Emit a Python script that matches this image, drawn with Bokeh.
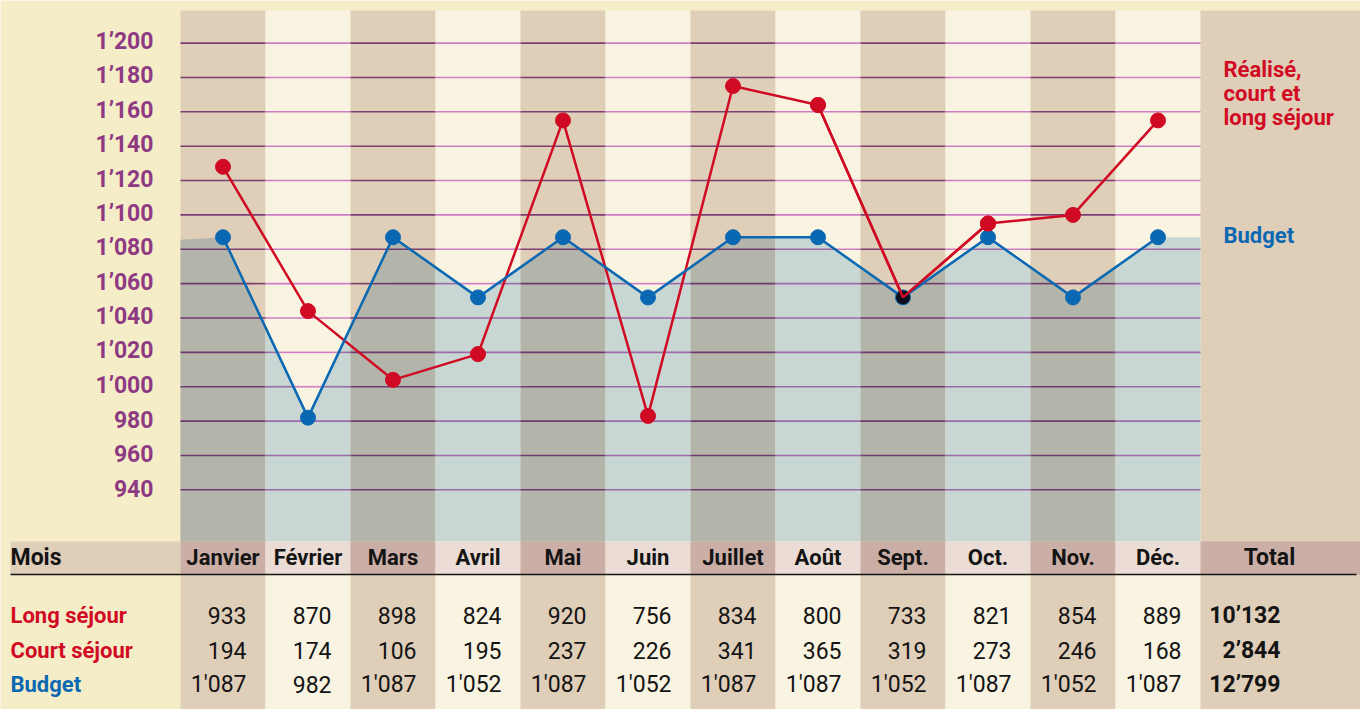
import numpy as np
from bokeh.plotting import figure
from bokeh.models import Range1d
from bokeh.core.properties import value
from bokeh.embed import file_html
from bokeh.resources import INLINE

# ---------------- data ----------------
months = ["Janvier", "Février", "Mars", "Avril", "Mai", "Juin",
          "Juillet", "Août", "Sept.", "Oct.", "Nov.", "Déc."]
long_sejour = [933, 870, 898, 824, 920, 756, 834, 800, 733, 821, 854, 889]
court_sejour = [194, 174, 106, 195, 237, 226, 341, 365, 319, 273, 246, 168]
budget = [1087, 982, 1087, 1052, 1087, 1052, 1087, 1087, 1052, 1087, 1052, 1087]
# plotted "Réalisé, court et long séjour" values
realise = [1128, 1044, 1004, 1019, 1155, 983, 1175, 1164, 1052, 1095, 1100, 1155]
y_ticks = [940, 960, 980, 1000, 1020, 1040, 1060, 1080, 1100, 1120, 1140, 1160, 1180, 1200]
row_labels = ["Long séjour", "Court séjour", "Budget"]
legend_realise = ["Réalisé,", "court et", "long séjour"]
legend_budget = "Budget"

# ---------------- styling ----------------
YELLOW = "#F5EDC8"
TAN = "#DFCEB8"
CREAM = "#F9F3E1"
HEAD_DARK = "#CBAFA6"
HEAD_LIGHT = "#EBDDD5"
AREA_TAN = "#B3B5AA"
AREA_CREAM = "#C8D7D3"
GRID_TAN = "#7E3D73"
GRID_CREAM = "#D07DC5"
GRID_AREA_TAN = "#6E3A6F"
GRID_AREA_CREAM = "#9E6BAA"
RED = "#D10A24"
BLUE = "#0A68B3"
PURPLE = "#8E3A82"
BLACK = "#141414"
FONT = value("Roboto")

W, H = 1360, 709
COLW = 85.0
X0 = 180.0
PXU = 446.7 / 260.0
TS = 8  # text baseline correction (px)


def X(rx):
    return (rx - X0) / COLW - 0.5


def Y(ry):
    return 1200 - (ry - 42.6) / PXU


def TY(ry):
    return Y(ry - TS)


def fmt(v, sep="’"):
    s = f"{v:,}"
    return s.replace(",", sep)


n = len(months)
idx = np.arange(n)

p = figure(width=W, height=H, title=None,
           x_range=Range1d(X(0), X(W)),
           y_range=Range1d(Y(H), Y(0)),
           output_backend="svg", toolbar_location=None, min_border=0,
           x_axis_type=None, y_axis_type=None)
p.grid.visible = False
p.outline_line_color = None
p.background_fill_color = YELLOW
p.border_fill_color = YELLOW

top = Y(10)
bot = Y(720)
plot_bottom = Y(541)

# column stripes
col_colors = [TAN if i % 2 == 0 else CREAM for i in range(n)]
p.quad(left=idx - 0.5, right=idx + 0.5, top=top, bottom=bot,
       fill_color=col_colors, line_color=None)
# right panel
p.quad(left=[n - 0.5], right=[X(1370)], top=[top], bottom=[bot],
       fill_color=TAN, line_color=None)

# area under budget, per column
def mids(i):
    ml = (budget[i - 1] + budget[i]) / 2 if i > 0 else budget[0] - 1.5
    mr = (budget[i] + budget[i + 1]) / 2 if i < n - 1 else budget[-1]
    return ml, mr

pxs, pys, pcols = [], [], []
for i in range(n):
    ml, mr = mids(i)
    pxs.append([i - 0.5, i - 0.5, i, i + 0.5, i + 0.5])
    pys.append([plot_bottom, ml, budget[i], mr, plot_bottom])
    pcols.append(AREA_TAN if i % 2 == 0 else AREA_CREAM)
p.patches(xs=pxs, ys=pys, fill_color=pcols, line_color=None)

# gridlines, split inside / outside the area
sx0, sy0, sx1, sy1, scol = [], [], [], [], []
for g in y_ticks:
    for i in range(n):
        ml, mr = mids(i)
        tan = (i % 2 == 0)
        for (xa, ya, xb, yb) in [(i - 0.5, ml, i, budget[i]), (i, budget[i], i + 0.5, mr)]:
            ina, inb = ya >= g, yb >= g
            if ina == inb:
                segs = [(xa, xb, ina)]
            else:
                xc = xa + (g - ya) / (yb - ya) * (xb - xa)
                segs = [(xa, xc, ina), (xc, xb, inb)]
            for (u, v, inside) in segs:
                sx0.append(u); sx1.append(v); sy0.append(g); sy1.append(g)
                if inside:
                    scol.append(GRID_AREA_TAN if tan else GRID_AREA_CREAM)
                else:
                    scol.append(GRID_TAN if tan else GRID_CREAM)
p.segment(x0=sx0, y0=sy0, x1=sx1, y1=sy1, line_color=scol, line_width=1.6)

# y labels
p.text(x=[X(153)] * len(y_ticks), y=y_ticks, text=[fmt(v) for v in y_ticks],
       text_align="right", text_baseline="alphabetic", y_offset=6.5 - TS,
       text_font=FONT, text_font_style="bold", text_font_size="23px",
       text_color=PURPLE)

# lines and markers
p.line(idx, realise, line_color=RED, line_width=2.5)
p.line(idx, budget, line_color=BLUE, line_width=2.5)
overlap = [abs(r - b) < 4 for r, b in zip(realise, budget)]
ri = [i for i in range(n) if not overlap[i]]
p.scatter([i for i in range(n)], budget, size=15, marker="circle",
          fill_color=[("#0B0E1C" if overlap[i] else BLUE) for i in range(n)],
          line_color=BLUE, line_width=1)
p.scatter(ri, [realise[i] for i in ri], size=15, marker="circle",
          fill_color=RED, line_color=RED)
# red line segments into the overlap point drawn on top
for i in range(n):
    if overlap[i]:
        xs_ = [j for j in (i - 1, i, i + 1) if 0 <= j < n]
        p.line(xs_, [realise[j] for j in xs_], line_color=RED, line_width=2.5)
        p.scatter([j for j in xs_ if j != i], [realise[j] for j in xs_ if j != i],
                  size=15, marker="circle", fill_color=RED, line_color=RED)

# legend labels on the right
p.text(x=[X(1223)] * 3, y=[TY(77), TY(101), TY(124.5)], text=legend_realise,
       text_align="left", text_baseline="alphabetic", text_font=FONT,
       text_font_style="bold", text_font_size="22px", text_color=RED)
p.text(x=[X(1223)], y=[TY(243)], text=[legend_budget],
       text_align="left", text_baseline="alphabetic", text_font=FONT,
       text_font_style="bold", text_font_size="22px", text_color=BLUE)

# ---------------- table ----------------
h_top, h_bot = Y(541), Y(574)
p.quad(left=[X(10)], right=[-0.5], top=[h_top], bottom=[h_bot],
       fill_color=TAN, line_color=None)
p.quad(left=idx - 0.5, right=idx + 0.5, top=h_top, bottom=h_bot,
       fill_color=[HEAD_DARK if i % 2 == 0 else HEAD_LIGHT for i in range(n)],
       line_color=None)
p.quad(left=[n - 0.5], right=[X(1370)], top=[h_top], bottom=[h_bot],
       fill_color=HEAD_DARK, line_color=None)
p.segment(x0=[X(10)], y0=[h_bot], x1=[X(1356)], y1=[h_bot],
          line_color=BLACK, line_width=1.3)

hb = TY(565)
p.text(x=[X(10)], y=[hb], text=["Mois"], text_align="left",
       text_baseline="alphabetic", text_font=FONT, text_font_style="bold",
       text_font_size="23px", text_color=BLACK)
p.text(x=idx, y=[hb] * n, text=months, text_align="center",
       text_baseline="alphabetic", text_font=FONT, text_font_style="bold",
       text_font_size="22px", text_color=BLACK)
p.text(x=[X(1269)], y=[hb], text=["Total"], text_align="center",
       text_baseline="alphabetic", text_font=FONT, text_font_style="bold",
       text_font_size="23px", text_color=BLACK)

row_base = [TY(623), TY(658), TY(692)]
row_cols = [RED, RED, BLUE]
row_vals = [[fmt(v) for v in long_sejour],
            [fmt(v) for v in court_sejour],
            [fmt(v, "'") for v in budget]]
totals = [fmt(sum(long_sejour)), fmt(sum(court_sejour)), fmt(sum(budget))]
num_x = idx + 0.5 - 19 / COLW
for r in range(3):
    p.text(x=[X(10)], y=[row_base[r]], text=[row_labels[r]], text_align="left",
           text_baseline="alphabetic", text_font=FONT, text_font_style="bold",
           text_font_size="22px", text_color=row_cols[r])
    p.text(x=num_x, y=[row_base[r]] * n, text=row_vals[r], text_align="right",
           text_baseline="alphabetic", text_font=FONT, text_font_style="normal",
           text_font_size="23px", text_color=BLACK)
    p.text(x=[X(1280)], y=[row_base[r]], text=[totals[r]], text_align="right",
           text_baseline="alphabetic", text_font=FONT, text_font_style="bold",
           text_font_size="23px", text_color=BLACK)

open("out.html", "w").write(file_html(p, INLINE))
